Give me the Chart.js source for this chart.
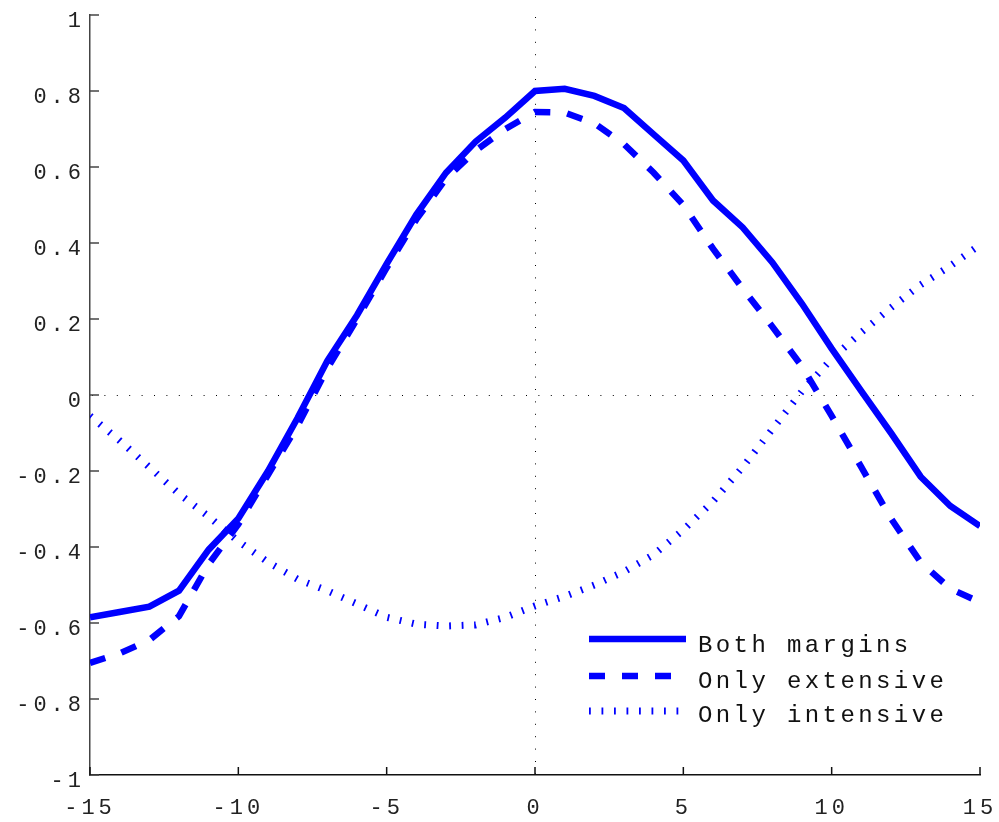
<!DOCTYPE html>
<html>
<head>
<meta charset="UTF-8">
<title>Margins response</title>
<script src="https://cdn.jsdelivr.net/npm/chart.js@4.4.1/dist/chart.umd.min.js"></script>
<style>
  html, body { margin: 0; padding: 0; background: #fff; }
  #wrap { width: 999px; height: 822px; }
</style>
</head>
<body>
<div id="wrap"><canvas id="marginsChart" width="999" height="822"></canvas></div>
<script>
// Response by horizon, three specifications
const horizon = [-15, -14, -13, -12, -11, -10, -9, -8, -7, -6, -5, -4, -3, -2, -1, 0,
                 1, 2, 3, 4, 5, 6, 7, 8, 9, 10, 11, 12, 13, 14, 15];
const bothMargins = [-0.585, -0.571, -0.557, -0.515, -0.407, -0.325, -0.20, -0.06, 0.09, 0.21, 0.345,
                     0.475, 0.585, 0.667, 0.73, 0.80, 0.806, 0.787, 0.755, 0.686, 0.617, 0.512,
                     0.441, 0.349, 0.24, 0.122, 0.01, -0.10, -0.215, -0.292, -0.345];
const onlyExtensive = [-0.705, -0.68, -0.645, -0.582, -0.445, -0.34, -0.21, -0.08, 0.07, 0.20, 0.335,
                       0.462, 0.57, 0.643, 0.70, 0.745, 0.743, 0.715, 0.66, 0.585, 0.50, 0.385,
                       0.28, 0.18, 0.075, -0.055, -0.19, -0.325, -0.44, -0.51, -0.545];
const onlyIntensive = [-0.055, -0.12, -0.19, -0.26, -0.32, -0.385, -0.44, -0.485, -0.515, -0.55, -0.585,
                       -0.603, -0.608, -0.605, -0.585, -0.555, -0.53, -0.50, -0.465, -0.42, -0.355, -0.28,
                       -0.19, -0.09, 0.01, 0.095, 0.165, 0.23, 0.29, 0.34, 0.395];

const seriesNames = ['Both margins', 'Only extensive', 'Only intensive'];
const xTicks = [-15, -10, -5, 0, 5, 10, 15];
const yTicks = [-1, -0.8, -0.6, -0.4, -0.2, 0, 0.2, 0.4, 0.6, 0.8, 1];

const FONT = "'Liberation Mono', 'Courier New', monospace";
const SPACING = '4px';

function toPoints(values) {
    return horizon.map((h, i) => ({ x: h, y: values[i] }));
}

// "0.8", "-1", "0" ... no trailing zeros
function tickText(v) {
    return String(Math.round(v * 10) / 10);
}

// canvas letter spacing for the wide typewriter look
const spacedText = {
    id: 'spacedText',
    beforeUpdate(chart) { chart.ctx.letterSpacing = SPACING; },
    beforeDraw(chart) { chart.ctx.letterSpacing = SPACING; }
};

// dotted zero lines plus inward tick marks on both axes
const axisDecor = {
    id: 'axisDecor',
    beforeDatasetsDraw(chart) {
        const { ctx, chartArea: a, scales: { x, y } } = chart;
        ctx.save();
        ctx.strokeStyle = '#000';
        ctx.lineWidth = 1;
        ctx.setLineDash([1, 11.4]);
        const y0 = Math.round(y.getPixelForValue(0)) + 0.5;
        ctx.beginPath();
        ctx.moveTo(a.left + 2, y0);
        ctx.lineTo(a.right, y0);
        ctx.stroke();
        const x0 = Math.round(x.getPixelForValue(0)) + 0.5;
        ctx.beginPath();
        ctx.moveTo(x0, a.top + 2);
        ctx.lineTo(x0, a.bottom);
        ctx.stroke();
        ctx.restore();
    },
    afterDraw(chart) {
        const { ctx, chartArea: a, scales: { x, y } } = chart;
        ctx.save();
        ctx.lineWidth = 1.5;
        ctx.strokeStyle = '#444';
        yTicks.forEach(v => {
            const py = y.getPixelForValue(v);
            ctx.beginPath();
            ctx.moveTo(a.left, py);
            ctx.lineTo(a.left + 9, py);
            ctx.stroke();
        });
        ctx.strokeStyle = '#111';
        xTicks.forEach(v => {
            const px = x.getPixelForValue(v);
            ctx.beginPath();
            ctx.moveTo(px, a.bottom);
            ctx.lineTo(px, a.bottom - 8);
            ctx.stroke();
        });
        ctx.restore();
    }
};

// legend in the lower right, samples use each dataset's own stroke
const lineLegend = {
    id: 'lineLegend',
    afterDatasetsDraw(chart) {
        const { ctx, chartArea: a } = chart;
        const x1 = a.right - 391, x2 = a.right - 294, tx = a.right - 282;
        const rows = [a.bottom - 136, a.bottom - 99, a.bottom - 64];
        const baseShift = [13, 12, 11];
        ctx.save();
        chart.data.datasets.forEach((ds, i) => {
            ctx.strokeStyle = ds.borderColor;
            ctx.lineWidth = ds.borderWidth;
            ctx.lineCap = 'butt';
            ctx.setLineDash(ds.borderDash || []);
            ctx.beginPath();
            ctx.moveTo(x1, rows[i]);
            ctx.lineTo(x2, rows[i]);
            ctx.stroke();
            ctx.setLineDash([]);
            ctx.letterSpacing = '3.4px';
            ctx.font = '24px ' + FONT;
            ctx.fillStyle = '#111';
            ctx.textAlign = 'left';
            ctx.textBaseline = 'alphabetic';
            ctx.fillText(ds.label, tx, rows[i] + baseShift[i]);
        });
        ctx.restore();
    }
};

const ctx = document.getElementById('marginsChart').getContext('2d');
new Chart(ctx, {
    type: 'line',
    data: {
        datasets: [
            {
                label: seriesNames[0],
                data: toPoints(bothMargins),
                borderColor: '#0000ff',
                borderWidth: 6.5
            },
            {
                label: seriesNames[1],
                data: toPoints(onlyExtensive),
                borderColor: '#0000ff',
                borderWidth: 6.5,
                borderDash: [16, 17]
            },
            {
                label: seriesNames[2],
                data: toPoints(onlyIntensive),
                borderColor: '#0000ff',
                borderWidth: 7,
                borderDash: [1.8, 10.7]
            }
        ]
    },
    options: {
        responsive: false,
        animation: false,
        devicePixelRatio: 1,
        layout: { padding: { top: 15, right: 19, left: 0, bottom: 0 } },
        elements: {
            point: { radius: 0 },
            line: { tension: 0, borderCapStyle: 'butt', borderJoinStyle: 'miter' }
        },
        plugins: {
            legend: { display: false },
            tooltip: { enabled: false }
        },
        scales: {
            x: {
                type: 'linear',
                min: -15,
                max: 15,
                afterBuildTicks: s => { s.ticks = xTicks.map(v => ({ value: v })); },
                afterFit: s => {
                    s.height = 47;
                    s.paddingLeft = 0;
                    s.paddingRight = 0;
                },
                grid: { display: false, drawTicks: false },
                border: { display: true, color: '#111', width: 1.5 },
                ticks: {
                    color: '#222',
                    font: { family: FONT, size: 22 },
                    padding: 20,
                    maxRotation: 0,
                    callback: tickText
                }
            },
            y: {
                min: -1,
                max: 1,
                afterBuildTicks: s => { s.ticks = yTicks.map(v => ({ value: v })); },
                afterFit: s => {
                    s.width = 90;
                    s.paddingTop = 0;
                    s.paddingBottom = 0;
                },
                grid: { display: false, drawTicks: false },
                border: { display: true, color: '#444', width: 1.5 },
                ticks: {
                    color: '#222',
                    font: { family: FONT, size: 22 },
                    padding: 5,
                    labelOffset: 6,
                    callback: tickText
                }
            }
        }
    },
    plugins: [spacedText, axisDecor, lineLegend]
});
</script>
</body>
</html>
